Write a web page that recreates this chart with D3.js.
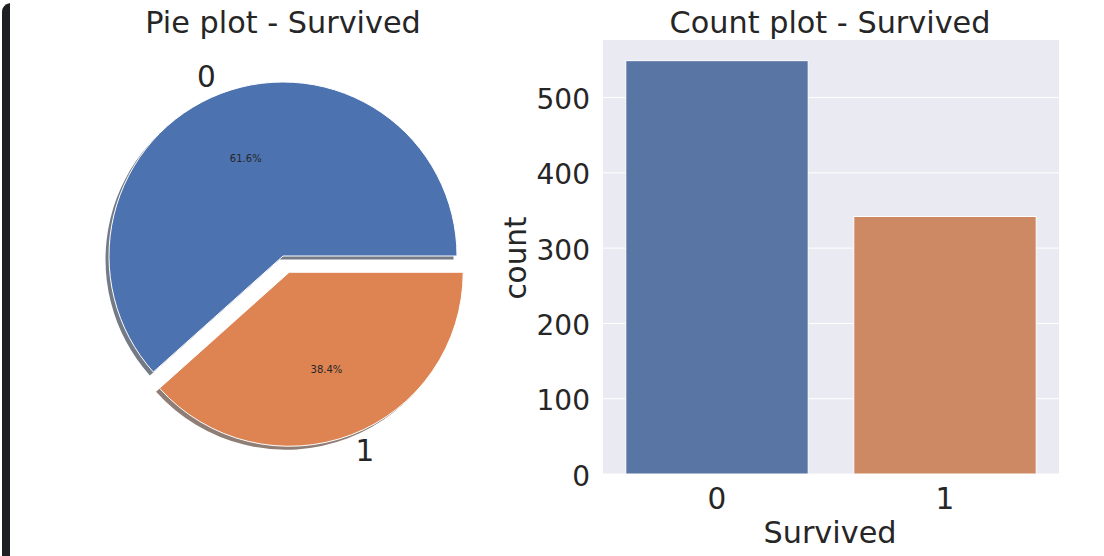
<!DOCTYPE html>
<html>
<head>
<meta charset="utf-8">
<script src="https://cdn.jsdelivr.net/npm/d3@7"></script>
<style>
  html, body { margin: 0; padding: 0; background: #fff; }
  svg { display: block; }
  text { font-family: "DejaVu Sans", sans-serif; fill: #262626; }
</style>
</head>
<body>
<svg width="1104" height="556"></svg>
<script>
// Chart values
var categories = ['0', '1'];
var counts = [549, 342];
var percentLabels = ['61.6%', '38.4%'];
var explode = [0, 0.1];
var yTicks = [0, 100, 200, 300, 400, 500];
var pieColors = ['#4c72b0', '#dd8452'];
var barColors = ['#5975a4', '#cc8963'];

var svg = d3.select('svg');

// Dark strip on the left edge of the screenshot
svg.append('path')
  .attr('d', 'M2,556 Q2,556 2,552 L2,12 Q2,5 10,3 L10,556 Z')
  .attr('fill', '#1e1f22');

// Pie plot

var cx = 283, cy = 256, radius = 174;

var pie = d3.pie()
  .sort(null)
  .startAngle(Math.PI / 2)              // matplotlib starts at 3 o'clock
  .endAngle(Math.PI / 2 - 2 * Math.PI); // and goes counter clockwise

var arc = d3.arc().innerRadius(0).outerRadius(radius);
var pieData = pie(counts);

function wedgeOffset(d, i, r) {         // position along the middle of the wedge
  var mid = (d.startAngle + d.endAngle) / 2;
  return [Math.sin(mid) * r, -Math.cos(mid) * r];
}

var pieGroup = svg.append('g')
  .attr('transform', 'translate(' + cx + ',' + cy + ')');

pieGroup.selectAll('path.shadow')
  .data(pieData)
  .enter()
  .append('path')
  .attr('class', 'shadow')
  .attr('d', arc)
  .attr('fill', function (d, i) {
    var c = d3.rgb(pieColors[i]);
    return d3.rgb(c.r * 0.3, c.g * 0.3, c.b * 0.3);
  })
  .attr('fill-opacity', 0.6)
  .attr('transform', function (d, i) {
    var o = wedgeOffset(d, i, explode[i] * radius);
    return 'translate(' + (o[0] - 0.02 * radius) + ',' + (o[1] + 0.02 * radius) + ')';
  });

pieGroup.selectAll('path.wedge')
  .data(pieData)
  .enter()
  .append('path')
  .attr('class', 'wedge')
  .attr('d', arc)
  .attr('fill', function (d, i) { return pieColors[i]; })
  .attr('stroke', '#fff')
  .attr('stroke-width', 1)
  .attr('transform', function (d, i) {
    var o = wedgeOffset(d, i, explode[i] * radius);
    return 'translate(' + o[0] + ',' + o[1] + ')';
  });

pieGroup.selectAll('text.pct')
  .data(pieData)
  .enter()
  .append('text')
  .attr('class', 'pct')
  .attr('x', function (d, i) { return wedgeOffset(d, i, (explode[i] + 0.6) * radius)[0]; })
  .attr('y', function (d, i) { return wedgeOffset(d, i, (explode[i] + 0.6) * radius)[1]; })
  .attr('dy', '0.36em')
  .attr('text-anchor', 'middle')
  .attr('font-size', 10)
  .text(function (d, i) { return percentLabels[i]; });

pieGroup.selectAll('text.lab')
  .data(pieData)
  .enter()
  .append('text')
  .attr('class', 'lab')
  .attr('x', function (d, i) { return wedgeOffset(d, i, (explode[i] + 1.1) * radius)[0]; })
  .attr('y', function (d, i) { return wedgeOffset(d, i, (explode[i] + 1.1) * radius)[1]; })
  .attr('dx', function (d, i) { return i === 0 ? 1 : -2; })
  .attr('dy', '0.33em')
  .attr('text-anchor', function (d, i) { return i === 0 ? 'end' : 'start'; })
  .attr('font-size', 29.5)
  .text(function (d, i) { return categories[i]; });

svg.append('text')
  .attr('x', 283)
  .attr('y', 33)
  .attr('text-anchor', 'middle')
  .attr('font-size', 30.3)
  .text('Pie plot - Survived');

// Count plot

var left = 603, right = 1059, top_ = 40, bottom = 474;

var xScale = d3.scaleBand()
  .domain(categories)
  .range([left, right])
  .paddingInner(0.2)
  .paddingOuter(0.1);

var yScale = d3.scaleLinear()
  .domain([0, 576.45])
  .range([bottom, top_]);

svg.append('rect')
  .attr('x', left)
  .attr('y', top_)
  .attr('width', right - left)
  .attr('height', bottom - top_)
  .attr('fill', '#eaeaf2');

svg.selectAll('line.grid')
  .data(yTicks)
  .enter()
  .append('line')
  .attr('class', 'grid')
  .attr('x1', left)
  .attr('x2', right)
  .attr('y1', function (d) { return yScale(d); })
  .attr('y2', function (d) { return yScale(d); })
  .attr('stroke', '#fff')
  .attr('stroke-width', 1);

svg.selectAll('rect.bar')
  .data(counts)
  .enter()
  .append('rect')
  .attr('class', 'bar')
  .attr('x', function (d, i) { return xScale(categories[i]); })
  .attr('y', function (d) { return yScale(d); })
  .attr('width', xScale.bandwidth())
  .attr('height', function (d) { return yScale(0) - yScale(d); })
  .attr('fill', function (d, i) { return barColors[i]; })
  .attr('stroke', '#fff')
  .attr('stroke-width', 1);

var xAxis = d3.axisBottom(xScale).tickSize(0).tickPadding(14);
var yAxis = d3.axisLeft(yScale).tickValues(yTicks).tickSize(0).tickPadding(14);

svg.append('g')
  .attr('transform', 'translate(0,' + bottom + ')')
  .call(xAxis)
  .call(function (g) { g.select('.domain').remove(); })
  .selectAll('text')
  .attr('font-size', 29.5)
  .attr('font-family', '"DejaVu Sans", sans-serif');

svg.append('g')
  .attr('transform', 'translate(' + left + ',0)')
  .call(yAxis)
  .call(function (g) { g.select('.domain').remove(); })
  .selectAll('text')
  .attr('dx', 1)
  .attr('dy', 11)
  .attr('font-size', 28)
  .attr('font-family', '"DejaVu Sans", sans-serif');

svg.append('text')
  .attr('x', 830)
  .attr('y', 33)
  .attr('text-anchor', 'middle')
  .attr('font-size', 30.3)
  .text('Count plot - Survived');

svg.append('text')
  .attr('x', 830)
  .attr('y', 542.5)
  .attr('text-anchor', 'middle')
  .attr('font-size', 30.3)
  .text('Survived');

svg.append('text')
  .attr('transform', 'translate(526,258) rotate(-90)')
  .attr('text-anchor', 'middle')
  .attr('font-size', 29.5)
  .text('count');
</script>
</body>
</html>
